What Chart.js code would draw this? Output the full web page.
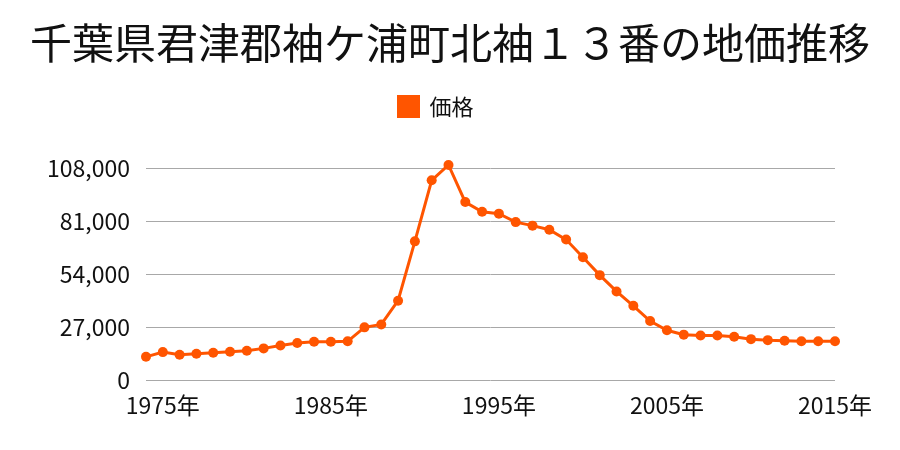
<!DOCTYPE html>
<html>
<head>
<meta charset="utf-8">
<script src="https://cdn.jsdelivr.net/npm/chart.js@4/dist/chart.umd.min.js"></script>
<style>
  html, body { margin: 0; padding: 0; background: #fff; }
  #wrap { width: 900px; height: 450px; }
</style>
</head>
<body>
<div id="wrap"><canvas id="landChart"></canvas></div>
<script>
// Years on the x axis (one point per year)
const years = []
for (let y = 1974; y <= 2015; y++) years.push(String(y))

// Land price (yen/m2)
const prices = [
  12000, 14400, 13100, 13600, 14100, 14600, 15100, 16300, 17800, 19000,
  19700, 19700, 19900, 27000, 28500, 40600, 70800, 101900, 109700, 90800,
  85900, 84900, 80600, 78800, 76700, 71700, 62700, 53600, 45300, 38000,
  30200, 25500, 23300, 22900, 22900, 22200, 21000, 20500, 20200, 19900,
  19900, 19900
]

// Y tick values
const yTicks = [0, 27000, 54000, 81000, 108000]

const fontFamily = '"Noto Sans CJK JP", "Noto Sans", sans-serif'
const orange = '#ff5500'

// extra room under the legend, and nudge it a little left like the original
const legendTweak = {
  id: 'legendTweak',
  beforeInit(chart) {
    const fit = chart.legend.fit
    chart.legend.fit = function () {
      fit.bind(chart.legend)()
      this.height += 35
    }
  },
  afterLayout(chart) {
    const lg = chart.legend
    lg.left -= 14
    lg.right -= 14
    if (typeof lg.adjustHitBoxes === 'function') lg.adjustHitBoxes()
  }
}

const ctx = document.getElementById('landChart').getContext('2d')
new Chart(ctx, {
  type: 'line',
  data: {
    labels: years,
    datasets: [{
      label: '価格',
      data: prices,
      borderColor: orange,
      backgroundColor: orange,
      borderWidth: 3,
      pointRadius: 5,
      pointBackgroundColor: orange,
      pointBorderWidth: 0,
      tension: 0,
      fill: false,
      clip: false
    }]
  },
  options: {
    responsive: true,
    maintainAspectRatio: false,
    animation: false,
    layout: { padding: { left: 10, right: 10, bottom: 28 } },
    scales: {
      x: {
        grid: { display: false },
        border: { display: false },
        ticks: {
          autoSkip: false,
          maxRotation: 0,
          color: '#111',
          font: { family: fontFamily, size: 23 },
          callback: function (value, index) {
            const y = Number(years[index])
            return y % 10 === 5 ? y + '年' : ''
          }
        }
      },
      y: {
        min: 0,
        max: 111000,
        border: { display: false },
        grid: { color: '#a8a8a8', lineWidth: 1, drawTicks: false },
        afterBuildTicks: function (axis) {
          axis.ticks = yTicks.map(v => ({ value: v }))
        },
        afterFit: function (axis) {
          axis.width = 136
        },
        ticks: {
          color: '#111',
          padding: 16,
          font: { family: fontFamily, size: 23 },
          callback: v => v.toLocaleString('en-US')
        }
      },
      // empty axis on the right, only there to keep the plot off the right edge
      yRight: {
        position: 'right',
        display: true,
        grid: { display: false },
        border: { display: false },
        ticks: { display: false },
        afterFit: function (axis) {
          axis.width = 55
        }
      }
    },
    plugins: {
      title: {
        display: true,
        text: '千葉県君津郡袖ケ浦町北袖１３番の地価推移',
        color: '#111',
        font: { family: fontFamily, size: 42, weight: 'normal' },
        padding: { top: 18, bottom: 17 }
      },
      legend: {
        position: 'top',
        labels: {
          boxWidth: 20,
          boxHeight: 20,
          color: '#111',
          font: { family: fontFamily, size: 22 }
        }
      },
      tooltip: { enabled: false }
    }
  },
  plugins: [legendTweak]
})
</script>
</body>
</html>
